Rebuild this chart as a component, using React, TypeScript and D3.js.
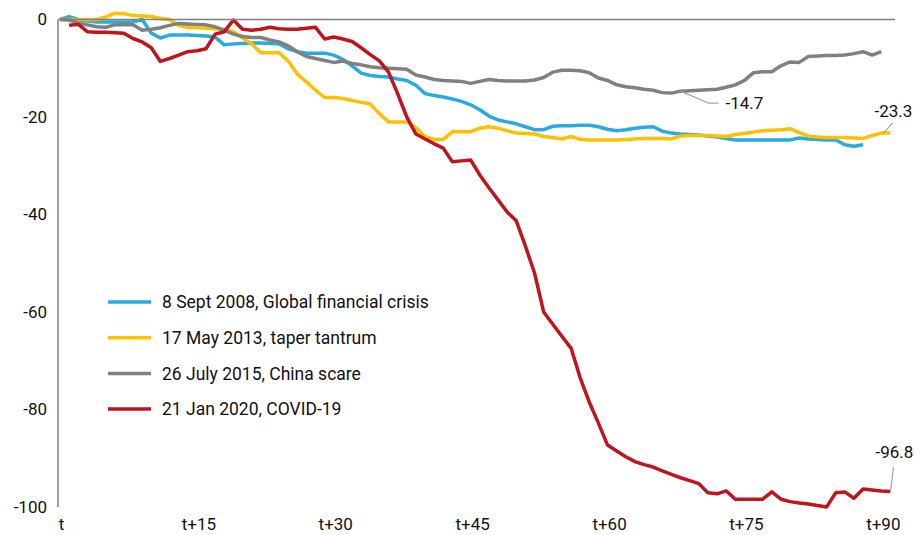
import { useEffect, useRef } from "react";
import * as d3 from "d3";

// days after the event: t, t+15, ... t+90
const tickDays = [0, 15, 30, 45, 60, 75, 90];
const tickLabels = ["t", "t+15", "t+30", "t+45", "t+60", "t+75", "t+90"];
const yTicks = [0, -20, -40, -60, -80, -100];

const seriesNames = [
  "8 Sept 2008, Global financial crisis",
  "17 May 2013, taper tantrum",
  "26 July 2015, China scare",
  "21 Jan 2020, COVID-19",
];
const seriesColors = ["#29abe2", "#ffc000", "#808080", "#c0141f"];

// first day index of each series
const seriesStart = [0, 0, 0, 1];

const gfc = [
  0, 0.6, 0, -0.3, -0.5, -0.5, -0.5, -0.5, -0.5, 0,
  -2.8, -3.8, -3.2, -3.2, -3.2, -3.3, -3.4, -3.6, -5.2, -5.0,
  -4.9, -4.8, -4.8, -4.9, -5.0, -6.0, -6.6, -6.9, -6.9, -6.9,
  -7.3, -8.2, -9.5, -11.0, -11.5, -11.7, -11.8, -12.2, -12.5, -13.5,
  -15.2, -15.6, -15.9, -16.3, -16.8, -17.5, -18.5, -19.8, -20.6, -21.0,
  -21.4, -22.0, -22.6, -22.6, -21.9, -21.8, -21.8, -21.7, -21.7, -22.0,
  -22.5, -22.8, -22.6, -22.3, -22.1, -22.0, -22.9, -23.3, -23.5, -23.6,
  -23.7, -23.9, -24.1, -24.4, -24.7, -24.7, -24.7, -24.7, -24.7, -24.7,
  -24.7, -24.3, -24.5, -24.6, -24.7, -24.7, -25.7, -26.0, -25.7,
];

const taper = [
  0, 0, 0, 0, 0, 0.5, 1.3, 1.2, 0.8, 0.7,
  0.6, 0.2, 0, -1.2, -1.6, -1.7, -1.8, -1.9, -2.1, -2.5,
  -3.8, -5.0, -6.8, -6.8, -6.8, -8.5, -11.2, -12.8, -14.5, -16.0,
  -16.0, -16.2, -16.6, -17.0, -17.3, -19.3, -21.0, -21.0, -21.0, -22.2,
  -24.0, -24.6, -24.6, -23.0, -23.0, -23.0, -22.3, -22.0, -22.3, -22.8,
  -23.3, -23.4, -23.5, -24.0, -24.2, -24.5, -24.0, -24.6, -24.7, -24.7,
  -24.7, -24.7, -24.6, -24.5, -24.4, -24.4, -24.4, -24.5, -23.9, -23.8,
  -23.8, -23.8, -23.9, -24.0, -23.6, -23.4, -23.1, -22.8, -22.7, -22.6,
  -22.4, -23.2, -23.9, -24.1, -24.2, -24.2, -24.2, -24.3, -24.4, -23.8,
  -23.3, -23.3,
];

const china = [
  0, -0.1, -0.7, -1.1, -1.5, -1.6, -1.1, -1.1, -1.1, -2.2,
  -2.0, -1.7, -1.2, -0.8, -0.9, -1.0, -1.1, -1.5, -2.2, -3.0,
  -3.5, -3.7, -3.7, -4.2, -4.6, -5.4, -6.6, -7.6, -8.0, -8.4,
  -8.8, -8.5, -9.0, -9.3, -9.7, -9.9, -10.0, -10.1, -10.2, -11.4,
  -11.8, -12.3, -12.5, -12.6, -12.7, -13.1, -12.7, -12.3, -12.5, -12.6,
  -12.6, -12.6, -12.4, -11.9, -10.8, -10.4, -10.4, -10.5, -10.9, -12.0,
  -12.5, -13.4, -13.8, -14.0, -14.3, -14.5, -15.0, -15.1, -14.7, -14.6,
  -14.5, -14.4, -14.3, -13.9, -13.4, -12.5, -10.9, -10.7, -10.7, -9.5,
  -8.7, -8.8, -7.6, -7.5, -7.4, -7.4, -7.3, -7.0, -6.6, -7.3,
  -6.6,
];

const covid = [
  -1.2, -1.0, -2.5, -2.6, -2.6, -2.7, -2.8, -3.9, -4.6, -5.8,
  -8.6, -8.0, -7.3, -6.6, -6.4, -6.0, -3.0, -2.5, -0.1, -2.0,
  -2.2, -2.0, -1.6, -1.9, -2.0, -2.0, -1.8, -1.6, -4.0, -3.6,
  -4.0, -4.5, -5.8, -7.2, -8.5, -10.8, -15.2, -20.0, -23.5, -24.5,
  -25.5, -26.4, -29.2, -29.0, -28.8, -31.9, -34.5, -37.0, -39.5, -41.3,
  -46.5, -52.0, -60.0, -62.5, -65.0, -67.4, -73.5, -78.5, -82.8, -87.3,
  -88.5, -89.7, -90.7, -91.3, -91.8, -92.6, -93.3, -94.0, -94.6, -95.2,
  -97.1, -97.3, -96.7, -98.4, -98.4, -98.4, -98.4, -96.9, -98.4, -98.9,
  -99.2, -99.4, -99.7, -100.0, -97.1, -96.9, -98.2, -96.3, -96.5, -96.7,
  -96.8,
];

const seriesValues = [gfc, taper, china, covid];

// value callouts: [series index, day]
const callouts = [
  { series: 2, day: 68, text: "-14.7" },
  { series: 1, day: 91, text: "-23.3" },
  { series: 3, day: 91, text: "-96.8" },
];

export default function App() {
  const svgRef = useRef<SVGSVGElement | null>(null);

  useEffect(() => {
    const width = 921;
    const height = 535;
    const font = "Roboto, 'DejaVu Sans', sans-serif";

    const svg = d3.select(svgRef.current);
    svg.selectAll("*").remove();
    svg.attr("width", width).attr("height", height).style("background", "#fff");

    const x = d3.scaleLinear().domain([0, 91.5]).range([60, 895]);
    const y = d3.scaleLinear().domain([-100, 0]).range([507, 19.5]);

    // y labels
    svg
      .append("g")
      .selectAll("text")
      .data(yTicks)
      .enter()
      .append("text")
      .attr("x", 47)
      .attr("y", (d) => y(d))
      .attr("dy", "0.35em")
      .attr("text-anchor", "end")
      .style("font-family", font)
      .style("font-size", "17px")
      .attr("fill", "#111")
      .text((d) => String(d));

    // x labels
    svg
      .append("g")
      .selectAll("text")
      .data(tickDays)
      .enter()
      .append("text")
      .attr("x", (d, i) => (i === 0 ? x(d) + 1.5 : x(d) + 2))
      .attr("y", 530)
      .attr("text-anchor", "middle")
      .style("font-family", font)
      .style("font-size", "17px")
      .attr("fill", "#111")
      .text((d, i) => tickLabels[i]);

    seriesValues.forEach((vals, s) => {
      svg
        .append("path")
        .datum(vals)
        .attr("fill", "none")
        .attr("stroke", seriesColors[s])
        .attr("stroke-width", 3.5)
        .attr("stroke-linejoin", "round")
        .attr(
          "d",
          d3
            .line<number>()
            .x((d, i) => x(i + seriesStart[s]))
            .y((d) => y(d))(vals)
        );
    });

    // axis lines
    svg
      .append("line")
      .attr("x1", x(0) - 2)
      .attr("x2", x(91.5))
      .attr("y1", y(0))
      .attr("y2", y(0))
      .attr("stroke", "#7f7f7f")
      .attr("stroke-width", 1.5);
    svg
      .append("line")
      .attr("x1", x(0) - 2)
      .attr("x2", x(0) - 2)
      .attr("y1", y(0))
      .attr("y2", y(-100))
      .attr("stroke", "#7f7f7f")
      .attr("stroke-width", 1.5);

    // callouts
    const pt = (c: { series: number; day: number }) => {
      const vals = seriesValues[c.series];
      const v = vals[c.day - seriesStart[c.series]];
      return [x(c.day), y(v)];
    };

    const [gx, gy] = pt(callouts[0]);
    svg
      .append("polyline")
      .attr("points", `${gx},${gy} ${gx + 28},${gy + 12} ${gx + 38},${gy + 12}`)
      .attr("fill", "none")
      .attr("stroke", "#a6a6a6")
      .attr("stroke-width", 1.2);
    svg
      .append("text")
      .attr("x", gx + 45)
      .attr("y", gy + 12)
      .attr("dy", "0.35em")
      .style("font-family", font)
      .style("font-size", "17px")
      .attr("fill", "#111")
      .text(callouts[0].text);

    const [tx, ty] = pt(callouts[1]);
    svg
      .append("line")
      .attr("x1", tx - 7)
      .attr("y1", ty)
      .attr("x2", tx + 2)
      .attr("y2", ty - 10)
      .attr("stroke", "#a6a6a6")
      .attr("stroke-width", 1.2);
    svg
      .append("text")
      .attr("x", tx + 3)
      .attr("y", ty - 22)
      .attr("dy", "0.35em")
      .attr("text-anchor", "middle")
      .style("font-family", font)
      .style("font-size", "17px")
      .attr("fill", "#111")
      .text(callouts[1].text);

    const [cx, cy] = pt(callouts[2]);
    svg
      .append("line")
      .attr("x1", cx)
      .attr("y1", cy)
      .attr("x2", cx + 3)
      .attr("y2", cy - 24)
      .attr("stroke", "#a6a6a6")
      .attr("stroke-width", 1.2);
    svg
      .append("text")
      .attr("x", cx + 4)
      .attr("y", cy - 39)
      .attr("dy", "0.35em")
      .attr("text-anchor", "middle")
      .style("font-family", font)
      .style("font-size", "17px")
      .attr("fill", "#111")
      .text(callouts[2].text);

    // legend
    const legend = svg.append("g").attr("transform", "translate(108, 302)");
    seriesNames.forEach((name, i) => {
      const g = legend.append("g").attr("transform", `translate(0, ${i * 35.7})`);
      g.append("line")
        .attr("x1", 0)
        .attr("x2", 43)
        .attr("y1", 0)
        .attr("y2", 0)
        .attr("stroke", seriesColors[i])
        .attr("stroke-width", 3.5);
      g.append("text")
        .attr("x", 54)
        .attr("y", 0)
        .attr("dy", "0.35em")
        .style("font-family", font)
        .style("font-size", "17.5px")
        .attr("fill", "#111")
        .text(name);
    });
  }, []);

  return (
    <svg
      ref={svgRef}
      style={{ position: "absolute", left: 0, top: 0, display: "block" }}
    ></svg>
  );
}
